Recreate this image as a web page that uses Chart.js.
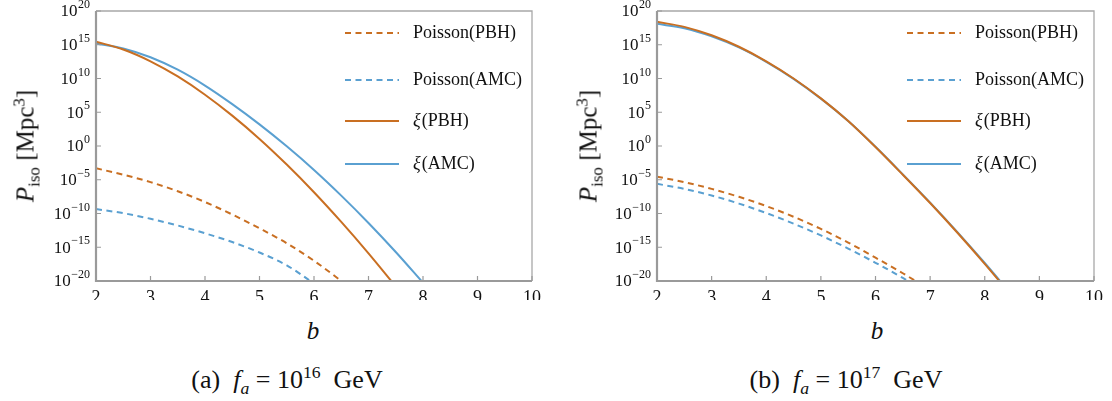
<!DOCTYPE html>
<html>
<head>
<meta charset="utf-8">
<script src="https://cdn.jsdelivr.net/npm/chart.js@4.4.1/dist/chart.umd.min.js"></script>
<style>
  body { margin: 0; background: #fff; }
  #wrap { position: relative; width: 1112px; height: 401px; font-family: 'Liberation Serif', 'Times New Roman', serif; color: #111; }
  canvas { position: absolute; top: 0; }
  .lbl { position: absolute; white-space: nowrap; line-height: 1; }
  .lbl sub, .lbl sup { font-size: 68%; line-height: 0; }
  .ytitle { font-size: 25px; transform: translate(-50%, -50%) rotate(-90deg); }
  .xtitle { font-size: 25px; font-style: italic; transform: translate(-50%, -50%); }
  .cap { font-size: 26px; transform: translate(-50%, -50%); }
</style>
</head>
<body>
<div id="wrap">
  <canvas id="chartA" width="556" height="300" style="left:0"></canvas>
  <canvas id="chartB" width="556" height="300" style="left:556px"></canvas>

  <div class="lbl ytitle" style="left:25px; top:146px"><i>P</i><sub>iso</sub> [Mpc<sup>3</sup>]</div>
  <div class="lbl ytitle" style="left:588px; top:146px"><i>P</i><sub>iso</sub> [Mpc<sup>3</sup>]</div>
  <div class="lbl xtitle" style="left:313px; top:330px">b</div>
  <div class="lbl xtitle" style="left:877px; top:330px">b</div>
  <div class="lbl cap" style="left:287px; top:380px">(a)&ensp;<i>f<sub>a</sub></i> = 10<sup>16</sup>&ensp;GeV</div>
  <div class="lbl cap" style="left:846px; top:380px">(b)&ensp;<i>f<sub>a</sub></i> = 10<sup>17</sup>&ensp;GeV</div>
</div>

<script>
// b values shared by all curves (each series uses as many as it has values)
const bGrid = [2, 2.5, 3, 3.5, 4, 4.5, 5, 5.5, 6, 6.5, 7, 7.5, 8, 8.5];

// log10 of P_iso
// (a) f_a = 1e16 GeV
const poissonPbhA = [-3.3, -4.25, -5.35, -6.7, -8.3, -10.15, -12.2, -14.4, -17.0, -20.0, -23.2];
const poissonAmcA = [-9.35, -9.95, -10.78, -11.78, -12.93, -14.23, -15.78, -17.68, -20.4, -23.5];
const xiPbhA = [15.45, 14.3, 12.55, 10.3, 7.6, 4.5, 1.05, -2.75, -6.85, -11.25, -15.9, -20.8];
const xiAmcA = [15.2, 14.45, 13.15, 11.3, 8.95, 6.2, 3.2, -0.05, -3.55, -7.35, -11.4, -15.7, -20.25];

// (b) f_a = 1e17 GeV
const poissonPbhB = [-4.55, -5.35, -6.35, -7.53, -8.9, -10.48, -12.28, -14.3, -16.55, -18.85, -21.35];
const poissonAmcB = [-5.6, -6.35, -7.33, -8.53, -9.93, -11.5, -13.25, -15.2, -17.3, -19.55, -21.95];
const xiPbhB = [18.4, 17.65, 16.4, 14.7, 12.55, 10.0, 7.05, 3.7, -0.15, -4.25, -8.45, -12.85, -17.45, -22.25];
const xiAmcB = [18.1, 17.45, 16.25, 14.6, 12.47, 9.95, 7.02, 3.7, -0.12, -4.2, -8.38, -12.75, -17.33, -22.1];

const seriesLabels = ['Poisson(PBH)', 'Poisson(AMC)', '\u03be(PBH)', '\u03be(AMC)'];
const xTicks = [2, 3, 4, 5, 6, 7, 8, 9, 10];
const yExponents = [20, 15, 10, 5, 0, -5, -10, -15, -20];

const ORANGE = '#c96f22';
const BLUE = '#5aa0d1';
const FONT = "'Liberation Serif', 'Times New Roman', serif";

function toPoints(vals) {
    return vals.map((v, i) => ({ x: bGrid[i], y: Math.pow(10, v) }));
}

function makeDatasets(pPbh, pAmc, xPbh, xAmc) {
    const base = { borderWidth: 2, pointRadius: 0, fill: false, cubicInterpolationMode: 'monotone', clip: 0 };
    return [
        { ...base, label: seriesLabels[0], data: toPoints(pPbh), borderColor: ORANGE, borderDash: [6, 4.5] },
        { ...base, label: seriesLabels[1], data: toPoints(pAmc), borderColor: BLUE, borderDash: [6, 4.5] },
        { ...base, label: seriesLabels[2], data: toPoints(xPbh), borderColor: ORANGE },
        { ...base, label: seriesLabels[3], data: toPoints(xAmc), borderColor: BLUE }
    ];
}

// frame, inward ticks, tick labels and the legend
const axisDecor = {
    id: 'axisDecor',
    afterDatasetsDraw(chart) {
        const ctx = chart.ctx;
        const { left, right, top, bottom } = chart.chartArea;
        const xs = chart.scales.x, ys = chart.scales.y;
        ctx.save();

        // top and right edges
        ctx.strokeStyle = '#a8a8a8';
        ctx.lineWidth = 1.3;
        ctx.beginPath();
        ctx.moveTo(left, top); ctx.lineTo(right, top); ctx.lineTo(right, bottom);
        ctx.stroke();
        // left and bottom axes
        ctx.strokeStyle = '#9a9a9a';
        ctx.lineWidth = 2.2;
        ctx.beginPath();
        ctx.moveTo(left, top); ctx.lineTo(left, bottom); ctx.lineTo(right, bottom);
        ctx.stroke();

        // inward ticks
        ctx.lineWidth = 1.2;
        ctx.beginPath();
        yExponents.forEach(e => {
            const py = ys.getPixelForValue(Math.pow(10, e));
            ctx.moveTo(left, py); ctx.lineTo(left + 5, py);
        });
        xTicks.forEach(v => {
            const px = xs.getPixelForValue(v);
            ctx.moveTo(px, bottom); ctx.lineTo(px, bottom - 5);
        });
        ctx.stroke();

        ctx.fillStyle = '#111';
        // y tick labels 10^n
        yExponents.forEach(e => {
            const py = ys.getPixelForValue(Math.pow(10, e));
            const expText = e < 0 ? '\u2212' + Math.abs(e) : String(e);
            ctx.font = '12px ' + FONT;
            const wExp = ctx.measureText(expText).width;
            ctx.font = '17px ' + FONT;
            const wBase = ctx.measureText('10').width;
            const xEnd = left - 6;
            ctx.textBaseline = 'middle';
            ctx.textAlign = 'left';
            ctx.fillText('10', xEnd - wExp - wBase - 0.5, py + 1);
            ctx.font = '12px ' + FONT;
            ctx.fillText(expText, xEnd - wExp, py - 6);
        });

        // x tick labels
        ctx.font = '18px ' + FONT;
        ctx.textAlign = 'center';
        ctx.textBaseline = 'top';
        xTicks.forEach(v => {
            ctx.fillText(String(v), xs.getPixelForValue(v), bottom + 8);
        });

        // legend
        const rowY = [22, 69, 110, 153];
        chart.data.datasets.forEach((ds, i) => {
            const yy = top + rowY[i];
            ctx.strokeStyle = ds.borderColor;
            ctx.lineWidth = 2;
            ctx.setLineDash(ds.borderDash || []);
            ctx.beginPath();
            ctx.moveTo(right - 187, yy); ctx.lineTo(right - 133, yy);
            ctx.stroke();
            ctx.setLineDash([]);
            ctx.textAlign = 'left';
            ctx.textBaseline = 'middle';
            let tx = right - 119;
            let txt = ds.label;
            if (txt.startsWith('\u03be')) {
                ctx.font = 'italic 18px ' + FONT;
                ctx.fillText('\u03be', tx, yy);
                tx += ctx.measureText('\u03be').width + 1;
                txt = txt.slice(1);
            }
            ctx.font = '18px ' + FONT;
            ctx.fillText(txt, tx, yy);
        });
        ctx.restore();
    }
};

function makeChart(id, datasets, padding) {
    const ctx = document.getElementById(id).getContext('2d');
    return new Chart(ctx, {
        type: 'line',
        data: { datasets: datasets },
        options: {
            responsive: false,
            animation: false,
            devicePixelRatio: 1,
            layout: { padding: padding },
            plugins: { legend: { display: false }, tooltip: { enabled: false } },
            scales: {
                x: { type: 'linear', min: 2, max: 10, display: false },
                y: { type: 'logarithmic', min: 1e-20, max: 1e20, display: false }
            }
        },
        plugins: [axisDecor]
    });
}

makeChart('chartA', makeDatasets(poissonPbhA, poissonAmcA, xiPbhA, xiAmcA),
    { left: 96, right: 24, top: 11, bottom: 19 });
makeChart('chartB', makeDatasets(poissonPbhB, poissonAmcB, xiPbhB, xiAmcB),
    { left: 101, right: 18, top: 11, bottom: 19 });
</script>
</body>
</html>
